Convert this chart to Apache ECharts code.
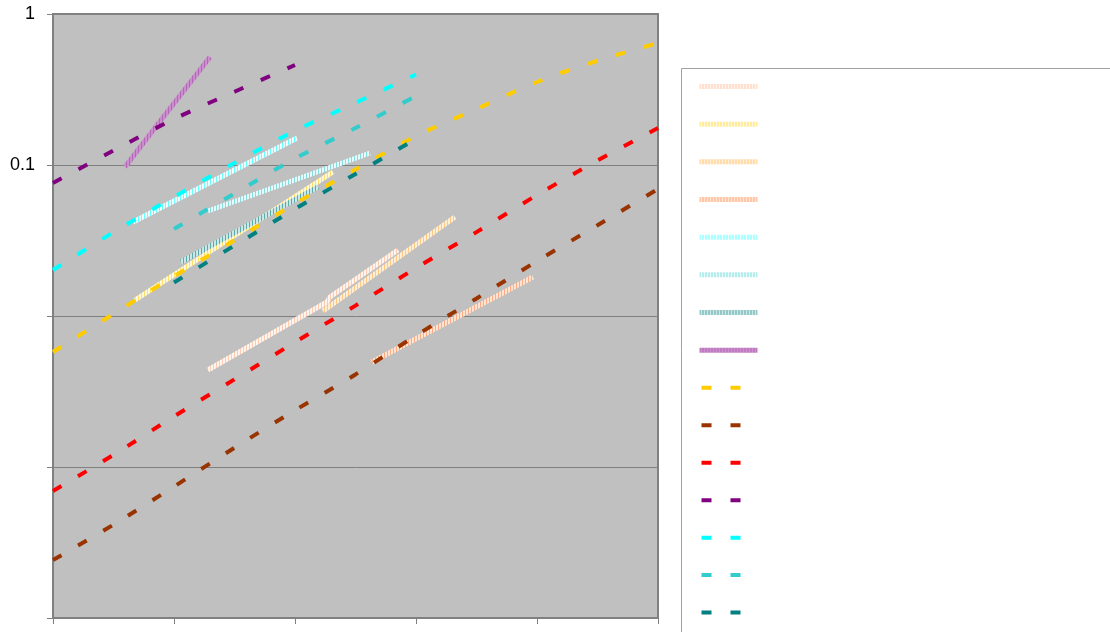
<!DOCTYPE html>
<html>
<head>
<meta charset="utf-8">
<script src="https://cdn.jsdelivr.net/npm/echarts@6/dist/echarts.min.js"></script>
<style>
  html, body { margin: 0; padding: 0; background: #ffffff; }
  #chart { width: 1110px; height: 632px; }
</style>
</head>
<body>
<div id="chart"></div>
<script>
// ---- data ----------------------------------------------------------------
// x in axis units (0..5), y on a log scale (1e-4 .. 1)
const xLong = [0, 0.5, 1, 1.5, 2, 2.5, 3, 3.5, 4, 4.5, 5];
const fitYellow = [0.00578, 0.01033, 0.0183, 0.03177, 0.05552, 0.0934, 0.1556, 0.2349, 0.3546, 0.4906, 0.6425];
const fitBrown = [0.000242, 0.000415, 0.000742, 0.001342, 0.002374, 0.004103, 0.007428, 0.01306, 0.0231, 0.03989, 0.06937];
const fitRed = [0.000694, 0.001202, 0.002163, 0.003809, 0.006708, 0.01172, 0.02079, 0.03594, 0.06328, 0.1071, 0.1758];

const xPurple = [0, 0.5, 1, 1.5, 2];
const fitPurple = [0.076, 0.1247, 0.2016, 0.3057, 0.4595];

const xCyan = [0, 0.5, 1, 1.5, 2, 2.5, 3];
const fitCyan = [0.02017, 0.03589, 0.0614, 0.1031, 0.1684, 0.2582, 0.3975];

const xMid = [1, 1.5, 2, 2.5, 3];
const fitTurquoise = [0.03769, 0.06477, 0.1104, 0.1758, 0.2864];
const fitTeal = [0.01667, 0.0293, 0.05112, 0.0873, 0.1487];

// measured runs
const runPeachX = [1.281, 2.264, 2.289, 2.851];
const runPeachY = [0.004389, 0.01238, 0.01336, 0.02735];
const runLemonX = [0.678, 2.314];
const runLemonY = [0.01276, 0.08988];
const runApricotX = [2.231, 3.322];
const runApricotY = [0.01079, 0.04524];
const runSalmonX = [2.636, 3.967];
const runSalmonY = [0.004959, 0.01813];
const runIceX = [0.661, 2.017];
const runIceY = [0.04194, 0.151];
const runAquaX = [1.281, 2.62];
const runAquaY = [0.04959, 0.1201];
const runSeaX = [1.058, 2.19];
const runSeaY = [0.02278, 0.07151];
const runOrchidX = [0.595, 0.893, 1.298];
const runOrchidY = [0.097, 0.1986, 0.519];

// y tick labels that are shown
const yLabelValues = [1, 0.1];
const yLabelTexts = ['1', '0.1'];

// ---- helpers ---------------------------------------------------------------
const pairs = (xs, ys) => xs.map((x, i) => [x, ys[i]]);

// vertical-stripe fill used by the hatched lines
function stripes(base, light) {
  const c = document.createElement('canvas');
  c.width = 3; c.height = 1;
  const g = c.getContext('2d');
  g.fillStyle = light; g.fillRect(0, 0, 3, 1);
  g.fillStyle = base; g.fillRect(0, 0, 1, 1);
  return { image: c, repeat: 'repeat' };
}

function hatched(name, xs, ys, base, light) {
  return {
    name, type: 'line', data: pairs(xs, ys),
    symbol: 'none', silent: true, color: base,
    lineStyle: { width: 5, color: stripes(base, light), cap: 'butt' },
    emphasis: { disabled: true }
  };
}

function dashed(name, xs, ys, color) {
  return {
    name, type: 'line', data: pairs(xs, ys), smooth: 0.3,
    symbol: 'none', silent: true, color,
    lineStyle: { width: 4, color, type: [10, 19], cap: 'butt' },
    emphasis: { disabled: true }
  };
}

const series = [
  hatched('Series 1', runPeachX, runPeachY, '#FFCBB0', '#FFF4EE'),
  hatched('Series 2', runLemonX, runLemonY, '#FFE066', '#FFF8DC'),
  hatched('Series 3', runApricotX, runApricotY, '#FFC880', '#FFEFD8'),
  hatched('Series 4', runSalmonX, runSalmonY, '#FFAA80', '#FFE4D4'),
  hatched('Series 5', runIceX, runIceY, '#66FFFF', '#F0FFFF'),
  hatched('Series 6', runAquaX, runAquaY, '#80DEDE', '#EAFAFA'),
  hatched('Series 7', runSeaX, runSeaY, '#5CAAAA', '#CDE6E6'),
  hatched('Series 8', runOrchidX, runOrchidY, '#B466B8', '#CA8ECC'),
  dashed('Series 9', xLong, fitYellow, '#FFCC00'),
  dashed('Series 10', xLong, fitBrown, '#993300'),
  dashed('Series 11', xLong, fitRed, '#FF0000'),
  dashed('Series 12', xPurple, fitPurple, '#800080'),
  dashed('Series 13', xCyan, fitCyan, '#00FFFF'),
  dashed('Series 14', xMid, fitTurquoise, '#33CCCC'),
  dashed('Series 15', xMid, fitTeal, '#008080')
];

const chart = echarts.init(document.getElementById('chart'), null, { renderer: 'canvas' });
chart.setOption({
  animation: false,
  backgroundColor: '#ffffff',
  grid: {
    left: 53, top: 14, right: 452, bottom: 14,
    show: true, backgroundColor: '#C0C0C0', borderColor: '#808080', borderWidth: 2
  },
  xAxis: {
    type: 'value', min: 0, max: 5, interval: 1,
    axisLine: { show: true, lineStyle: { color: '#808080', width: 2 } },
    axisTick: { show: true, length: 6, lineStyle: { color: '#808080' } },
    axisLabel: { show: false },
    splitLine: { show: false }
  },
  yAxis: {
    type: 'log', logBase: 10, min: 0.0001, max: 1,
    axisLine: { show: true, lineStyle: { color: '#808080', width: 2 } },
    axisTick: { show: true, length: 6, lineStyle: { color: '#808080' } },
    splitLine: { show: true, lineStyle: { color: '#808080', width: 1 } },
    axisLabel: {
      margin: 18, color: '#000000', fontSize: 18, fontFamily: 'Liberation Sans, Arial, sans-serif',
      formatter: v => {
        for (let i = 0; i < yLabelValues.length; i++) {
          if (Math.abs(Math.log10(v) - Math.log10(yLabelValues[i])) < 1e-6) return yLabelTexts[i];
        }
        return '';
      }
    }
  },
  legend: {
    orient: 'vertical', left: 697, top: 84, padding: 0,
    itemWidth: 58, itemHeight: 6, itemGap: 32.67,
    selectedMode: false,
    formatter: () => '',
    textStyle: { fontSize: 6, lineHeight: 6 },
    itemStyle: { opacity: 0 },
    lineStyle: { width: 'inherit', dashOffset: -2 },
    data: series.map(s => s.name)
  },
  graphic: [{
    type: 'rect', z: -1, silent: true,
    shape: { x: 681.5, y: 68.5, width: 460, height: 620 },
    style: { fill: 'none', stroke: '#A0A0A0', lineWidth: 1 }
  }],
  series
});
</script>
</body>
</html>
